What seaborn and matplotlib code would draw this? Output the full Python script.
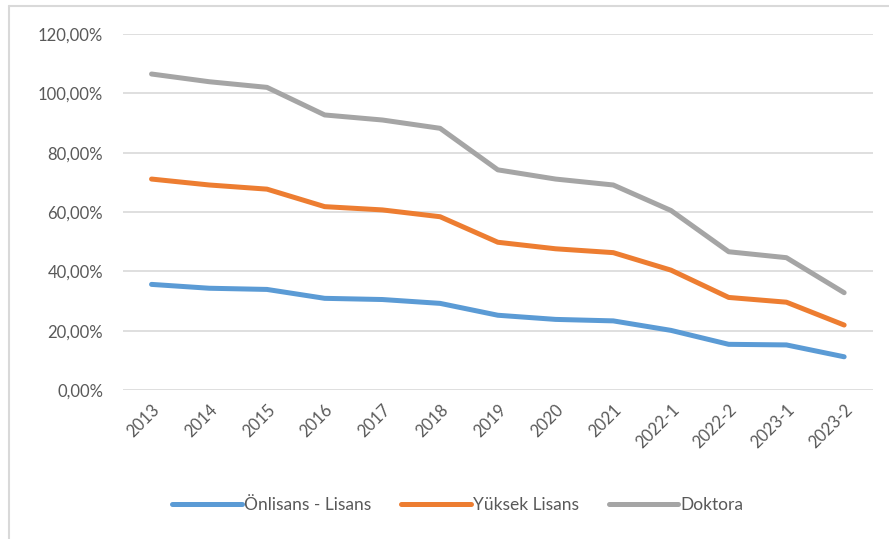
import pandas as pd
import numpy as np
import matplotlib.pyplot as plt
import seaborn as sns
from matplotlib.ticker import FuncFormatter
from matplotlib.lines import Line2D

periods = ['2013', '2014', '2015', '2016', '2017', '2018', '2019', '2020',
           '2021', '2022-1', '2022-2', '2023-1', '2023-2']
onlisans = [35.6, 34.3, 33.9, 30.9, 30.5, 29.2, 25.2, 23.8, 23.3, 20.1, 15.4, 15.2, 11.2]
yuksek = [71.1, 69.1, 67.7, 61.8, 60.7, 58.4, 49.8, 47.6, 46.3, 40.4, 31.2, 29.6, 21.9]
doktora = [106.5, 103.9, 102.0, 92.7, 91.0, 88.2, 74.2, 71.1, 69.1, 60.5, 46.6, 44.6, 32.8]
series_names = ['Önlisans - Lisans', 'Yüksek Lisans', 'Doktora']
colors = ['#5B9BD5', '#ED7D31', '#A5A5A5']

sns.set_style('white')
plt.rcParams['font.family'] = ['Lato', 'DejaVu Sans']

df = pd.DataFrame({
    'period': periods * 3,
    'value': onlisans + yuksek + doktora,
    'series': np.repeat(series_names, len(periods)),
})
df['x'] = np.tile(np.arange(len(periods)), 3)

fig = plt.figure(figsize=(8.89, 5.39), dpi=100)
ax = fig.add_axes([0.138, 0.2764, 0.844, 0.6606])

sns.lineplot(data=df, x='x', y='value', hue='series', palette=colors,
             hue_order=series_names, linewidth=3.6, sort=False, ax=ax)

# chart frame: only left and top edges are visible in the crop
frame_col = '#D9D9D9'
fig.lines.append(Line2D([9 / 889, 9 / 889], [0, 1 - 6 / 539], transform=fig.transFigure,
                        color=frame_col, linewidth=1.5))
fig.lines.append(Line2D([9 / 889, 1], [1 - 6 / 539, 1 - 6 / 539], transform=fig.transFigure,
                        color=frame_col, linewidth=1.5))

ax.set_xlim(-0.5, len(periods) - 0.5)
ax.set_ylim(0, 120)
ax.set_yticks(np.arange(0, 121, 20))
ax.yaxis.set_major_formatter(FuncFormatter(lambda v, p: f'{v:.2f}'.replace('.', ',') + '%'))
ax.set_xticks(np.arange(len(periods)))
ax.set_xticklabels(periods, rotation=45, ha='right', rotation_mode='anchor')
ax.tick_params(axis='both', colors='#595959', labelsize=12, length=0)
ax.tick_params(axis='y', pad=14)
ax.tick_params(axis='x', pad=8)
ax.grid(axis='y', color='#D9D9D9', linewidth=1.2)
ax.set_axisbelow(True)
for s in ax.spines.values():
    s.set_visible(False)
ax.set_xlabel('')
ax.set_ylabel('')

ax.legend(loc='center', bbox_to_anchor=(458 / 889, 1 - 505 / 539),
          bbox_transform=fig.transFigure, ncol=3, frameon=False,
          fontsize=12.5, handlelength=4.0, handletextpad=0.15, columnspacing=1.7,
          labelcolor='#595959')

plt.savefig('out.png', dpi=100)
